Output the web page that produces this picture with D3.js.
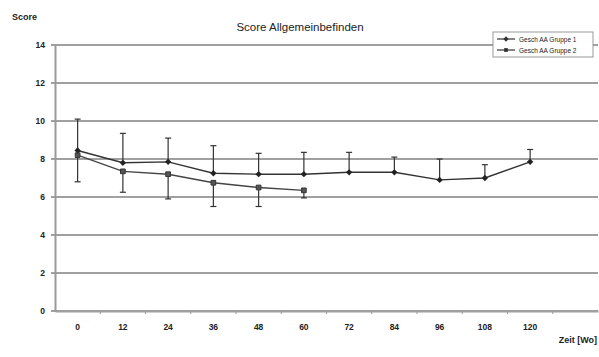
<!DOCTYPE html>
<html>
<head>
<meta charset="utf-8">
<script src="https://cdn.jsdelivr.net/npm/d3@7"></script>
<style>
  body { margin: 0; background: #fff; }
  text { font-family: "Liberation Sans", Arial, sans-serif; fill: #222; }
</style>
</head>
<body>
<svg id="chart" width="599" height="357"></svg>
<script>
// weeks on the category axis (last band is empty, as in the original)
const weeks = ['0', '12', '24', '36', '48', '60', '72', '84', '96', '108', '120', ''];
const yTicks = [0, 2, 4, 6, 8, 10, 12, 14];

// group 1: mean score and upper error
const group1 = [8.45, 7.8, 7.85, 7.25, 7.2, 7.2, 7.3, 7.3, 6.9, 7.0, 7.85];
const group1Err = [1.65, 1.55, 1.25, 1.45, 1.1, 1.15, 1.05, 0.8, 1.1, 0.7, 0.65];
// group 2: mean score and lower error
const group2 = [8.2, 7.35, 7.2, 6.75, 6.5, 6.35];
const group2Err = [1.4, 1.1, 1.3, 1.25, 1.0, 0.4];

const seriesNames = ['Gesch AA Gruppe 1', 'Gesch AA Gruppe 2'];

const svg = d3.select('#chart');

const x = d3.scaleBand()
  .domain(weeks.map((d, i) => i))
  .range([55, 598]);

const y = d3.scaleLinear()
  .domain([0, 14])
  .range([311, 45]);

const cx = i => x(i) + x.bandwidth() / 2;

// gridlines
svg.append('g')
  .selectAll('line')
  .data(yTicks)
  .join('line')
  .attr('x1', 51)
  .attr('x2', 598)
  .attr('y1', d => y(d))
  .attr('y2', d => y(d))
  .attr('stroke', '#a0a0a0')
  .attr('stroke-width', 1.8);

// y axis
svg.append('g')
  .attr('transform', 'translate(55,0)')
  .call(d3.axisLeft(y).tickValues(yTicks).tickSize(0).tickPadding(10))
  .call(g => g.select('.domain').attr('stroke', '#999').attr('stroke-width', 2))
  .call(g => g.selectAll('text').attr('font-size', 8.5).attr('font-weight', 'bold').attr('fill', '#333'));

// x axis
svg.append('g')
  .attr('transform', 'translate(0,311)')
  .call(d3.axisBottom(x).tickSize(0).tickPadding(13).tickFormat(i => weeks[i]))
  .call(g => g.select('.domain').attr('stroke', '#a0a0a0').attr('stroke-width', 1.8))
  .call(g => g.selectAll('text').attr('font-size', 8.5).attr('font-weight', 'bold').attr('fill', '#333'));

svg.append('g')
  .selectAll('line')
  .data(weeks.map((d, i) => i).slice(1))
  .join('line')
  .attr('x1', i => x(i))
  .attr('x2', i => x(i))
  .attr('y1', 311)
  .attr('y2', 314)
  .attr('stroke', '#999');

// error bars
function errorBars(values, errs, dir) {
  const g = svg.append('g').attr('stroke', '#333').attr('stroke-width', 1.2);
  const data = values.map((v, i) => ({ i, v, end: v + dir * errs[i] }));
  g.selectAll('line.bar')
    .data(data)
    .join('line')
    .attr('class', 'bar')
    .attr('x1', d => cx(d.i))
    .attr('x2', d => cx(d.i))
    .attr('y1', d => y(d.v))
    .attr('y2', d => y(d.end));
  g.selectAll('line.cap')
    .data(data)
    .join('line')
    .attr('class', 'cap')
    .attr('x1', d => cx(d.i) - 3)
    .attr('x2', d => cx(d.i) + 3)
    .attr('y1', d => y(d.end))
    .attr('y2', d => y(d.end));
}
errorBars(group1, group1Err, 1);
errorBars(group2, group2Err, -1);

// lines
const line = d3.line()
  .x((d, i) => cx(i))
  .y(d => y(d));

svg.append('path')
  .datum(group2)
  .attr('d', line)
  .attr('fill', 'none')
  .attr('stroke', '#444')
  .attr('stroke-width', 1.4);

svg.append('path')
  .datum(group1)
  .attr('d', line)
  .attr('fill', 'none')
  .attr('stroke', '#333')
  .attr('stroke-width', 1.4);

// markers
svg.append('g')
  .selectAll('path')
  .data(group2)
  .join('path')
  .attr('transform', (d, i) => `translate(${cx(i)},${y(d)})`)
  .attr('d', d3.symbol(d3.symbolSquare, 22))
  .attr('fill', '#555')
  .attr('stroke', '#333');

svg.append('g')
  .selectAll('path')
  .data(group1)
  .join('path')
  .attr('transform', (d, i) => `translate(${cx(i)},${y(d)}) rotate(45)`)
  .attr('d', d3.symbol(d3.symbolSquare, 20))
  .attr('fill', '#222');

// titles
svg.append('text')
  .attr('x', 300)
  .attr('y', 31)
  .attr('text-anchor', 'middle')
  .attr('font-size', 11.5)
  .text('Score Allgemeinbefinden');

svg.append('text')
  .attr('x', 12)
  .attr('y', 20)
  .attr('font-size', 9)
  .attr('font-weight', 'bold')
  .text('Score');

svg.append('text')
  .attr('x', 597)
  .attr('y', 343)
  .attr('text-anchor', 'end')
  .attr('font-size', 9)
  .attr('font-weight', 'bold')
  .text('Zeit [Wo]');

// legend
const legend = svg.append('g').attr('transform', 'translate(493,32)');
legend.append('rect')
  .attr('width', 100)
  .attr('height', 25)
  .attr('fill', '#fff')
  .attr('stroke', '#999');

const legendItems = legend.selectAll('g')
  .data(seriesNames)
  .join('g')
  .attr('transform', (d, i) => `translate(0,${7 + i * 11})`);

legendItems.append('line')
  .attr('x1', 4)
  .attr('x2', 22)
  .attr('stroke', '#333')
  .attr('stroke-width', 1.2);

legendItems.append('path')
  .attr('transform', (d, i) => `translate(13,0) rotate(${i === 0 ? 45 : 0})`)
  .attr('d', d3.symbol(d3.symbolSquare, 14))
  .attr('fill', '#333');

legendItems.append('text')
  .attr('x', 26)
  .attr('y', 2.5)
  .attr('font-size', 6.5)
  .text(d => d);
</script>
</body>
</html>
